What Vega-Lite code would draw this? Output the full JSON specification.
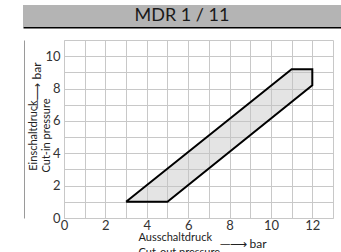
{
  "$schema": "https://vega.github.io/schema/vega-lite/v6.json",
  "padding": {"left": 23, "top": 5, "right": 0, "bottom": 0},
  "background": "white",
  "config": {"font": "Lato", "view": {"stroke": null}},
  "spacing": 7,
  "vconcat": [
    {
      "width": 318,
      "height": 22,
      "data": {"values": [{"t": "MDR 1 / 11"}]},
      "layer": [
        {
          "mark": {"type": "rect", "fill": "#b4b4b4", "stroke": null},
          "encoding": {}
        },
        {
          "mark": {"type": "text", "fontSize": 18, "fill": "#1a1a1a", "baseline": "middle", "align": "center"},
          "encoding": {
            "text": {"field": "t"},
            "x": {"datum": 0.5, "type": "quantitative", "scale": {"domain": [0, 1]},
              "axis": {"orient": "bottom", "labels": false, "ticks": false, "grid": false, "title": null,
                "domainColor": "#000000", "domainWidth": 2}}
          }
        }
      ]
    },
    {
      "spacing": 0,
      "hconcat": [
        {
          "width": 0.001,
          "height": 178,
          "data": {"values": []},
          "mark": "point",
          "encoding": {}
        },
        {
          "width": 269,
          "height": 178,
          "data": {"values": [
            {"o": 1, "x": 3, "y": 1},
            {"o": 2, "x": 5, "y": 1},
            {"o": 3, "x": 12, "y": 8.2},
            {"o": 4, "x": 12, "y": 9.2},
            {"o": 5, "x": 11, "y": 9.2},
            {"o": 6, "x": 3, "y": 1}
          ]},
          "layer": [
            {
              "mark": {"type": "line", "fill": "#c4c4c4", "fillOpacity": 0.45, "strokeOpacity": 0},
              "encoding": {
                "x": {"field": "x", "type": "quantitative", "scale": {"domain": [0, 13], "nice": false},
                  "axis": {"orient": "bottom", "values": [0,1,2,3,4,5,6,7,8,9,10,11,12,13],
                    "labelExpr": "datum.value % 2 == 0 && datum.value <= 12 ? datum.label : ''",
                    "grid": true, "gridColor": "#c8c8c8", "ticks": false, "domainColor": "#c8c8c8",
                    "labelFontSize": 13, "labelColor": "#333333", "labelPadding": 1, "labelFlush": false, "labelOverlap": false,
                    "title": ["Ausschaltdruck", "Cut-out pressure"], "titleFontSize": 11, "titleFontWeight": "normal",
                    "titleColor": "#222222", "titleAlign": "left", "titleX": 74, "titleY": 13, "titleBaseline": "top", "titleLineHeight": 15}},
                "y": {"field": "y", "type": "quantitative", "scale": {"domain": [0, 11], "nice": false},
                  "axis": {"orient": "left", "values": [0,1,2,3,4,5,6,7,8,9,10,11],
                    "labelExpr": "datum.value % 2 == 0 && datum.value <= 10 ? datum.label : ''",
                    "grid": true, "gridColor": "#c8c8c8", "ticks": false, "domainColor": "#c8c8c8",
                    "labelFontSize": 13, "labelColor": "#333333", "labelPadding": 4, "labelFlush": false, "labelOverlap": false,
                    "title": ["Einschaltdruck", "Cut-in pressure"], "titleFontSize": 11, "titleFontWeight": "normal",
                    "titleColor": "#222222", "titleAngle": -90, "titleAlign": "center", "titleX": -37, "titleY": 95, "titleBaseline": "top", "titleLineHeight": 13}},
                "order": {"field": "o", "type": "quantitative"}
              }
            },
            {
              "mark": {"type": "line", "stroke": "#000000", "strokeWidth": 2, "strokeJoin": "miter"},
              "encoding": {
                "x": {"field": "x", "type": "quantitative",
                  "axis": {"orient": "bottom", "domain": false, "labels": false, "ticks": false, "grid": false,
                    "title": "─⟶ bar", "titleFontSize": 12, "titleFontWeight": "normal", "titleColor": "#222222",
                    "titleAlign": "left", "titleX": 156, "titleY": 25, "titleBaseline": "middle"}},
                "y": {"field": "y", "type": "quantitative",
                  "axis": {"orient": "left", "offset": 40, "domainColor": "#9a9a9a", "labels": false, "ticks": false, "grid": false,
                    "title": "─⟶ bar", "titleFontSize": 12, "titleFontWeight": "normal", "titleColor": "#222222",
                    "titleAngle": -90, "titleAlign": "center", "titleX": 12, "titleY": 45, "titleBaseline": "middle"}},
                "order": {"field": "o", "type": "quantitative"}
              }
            }
          ],
          "resolve": {"axis": {"x": "independent", "y": "independent"}}
        }
      ]
    }
  ]
}
